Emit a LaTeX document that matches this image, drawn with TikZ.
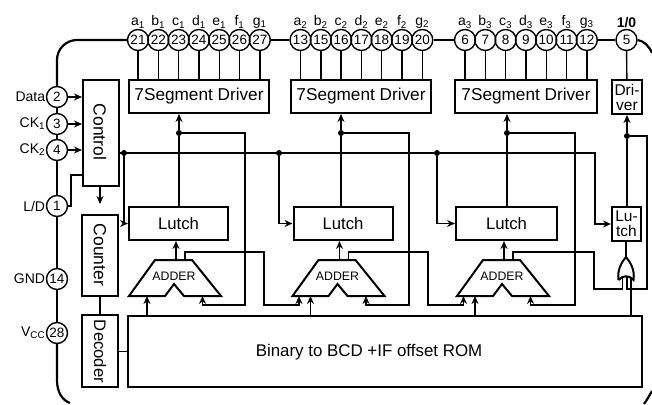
\documentclass[tikz,border=0pt]{standalone}
\usepackage{fontspec}
\setmainfont{Liberation Sans}
\usetikzlibrary{arrows.meta}
\tikzset{
    pinc/.style={draw, circle, line width=1.4pt, minimum size=21pt, inner sep=0pt, font=\fontsize{13.5}{13.5}\selectfont},
    block/.style={draw, line width=2pt, inner sep=0pt, font=\fontsize{16.7}{16.7}\selectfont},
    wire/.style={line width=1.4pt},
    arrow/.style={wire, -{Stealth[length=8pt,width=7pt]}},
    outline/.style={line width=2.2pt},
    dot/.style={circle, fill=black, inner sep=0pt, minimum size=6pt},
    adder/.pic={
        \draw[line width=2pt] (-46,0) -- (-20,-36) -- (17,-36) -- (46,0) -- (9,0) -- (-1,-12) -- (-10,0) -- cycle;
        \node[font=\fontsize{12.3}{12.3}\selectfont] (-text) at (-1,-20) {ADDER};
        \coordinate (-rom) at (-28,0);
        \coordinate (-cin) at (-39.5,0);
        \coordinate (-fb) at (27.5,0);
        \coordinate (-out) at (1,-36);
        \coordinate (-co) at (10,-36);
    },
    orgate/.pic={
        \draw[line width=2pt] (-7.5,23) .. controls (-9,12) and (-4,5) .. (0,0) .. controls (4,5) and (9,12) .. (7.5,23) .. controls (3,18) and (-3,18) .. (-7.5,23);
        \coordinate (-out) at (0,0);
        \coordinate (-a) at (-3.5,20);
        \coordinate (-b) at (1,19);
        \coordinate (-c) at (5,20);
    }
}
\begin{document}
\begin{tikzpicture}[x=1pt, y=-1pt, node distance=20.3pt, label distance=-1pt,
    every label/.style={inner sep=1.5pt, font=\fontsize{14}{14}\selectfont}]
    \useasboundingbox (0,0) rectangle (652,404);

    % top pins
    \node (P21) [pinc, label=above:a\textsubscript{1}] at (138,40) {21};
    \node (P22) [pinc, right of=P21, label=above:b\textsubscript{1}] {22};
    \node (P23) [pinc, right of=P22, label=above:c\textsubscript{1}] {23};
    \node (P24) [pinc, right of=P23, label=above:d\textsubscript{1}] {24};
    \node (P25) [pinc, right of=P24, label=above:e\textsubscript{1}] {25};
    \node (P26) [pinc, right of=P25, label=above:f\textsubscript{1}] {26};
    \node (P27) [pinc, right of=P26, label=above:g\textsubscript{1}] {27};
    \node (P13) [pinc, label=above:a\textsubscript{2}] at (300.5,40) {13};
    \node (P15) [pinc, right of=P13, label=above:b\textsubscript{2}] {15};
    \node (P16) [pinc, right of=P15, label=above:c\textsubscript{2}] {16};
    \node (P17) [pinc, right of=P16, label=above:d\textsubscript{2}] {17};
    \node (P18) [pinc, right of=P17, label=above:e\textsubscript{2}] {18};
    \node (P19) [pinc, right of=P18, label=above:f\textsubscript{2}] {19};
    \node (P20) [pinc, right of=P19, label=above:g\textsubscript{2}] {20};
    \node (P6) [pinc, label=above:a\textsubscript{3}] at (465,40) {6};
    \node (P7) [pinc, right of=P6, label=above:b\textsubscript{3}] {7};
    \node (P8) [pinc, right of=P7, label=above:c\textsubscript{3}] {8};
    \node (P9) [pinc, right of=P8, label=above:d\textsubscript{3}] {9};
    \node (P10) [pinc, right of=P9, label=above:e\textsubscript{3}] {10};
    \node (P11) [pinc, right of=P10, label=above:f\textsubscript{3}] {11};
    \node (P12) [pinc, right of=P11, label=above:g\textsubscript{3}] {12};
    \node (P5) [pinc, label={[font=\fontsize{14}{14}\selectfont\bfseries]above:1/0}] at (626.5,40) {5};

    % left pins
    \node (P2) [pinc, label=left:Data] at (57,97) {2};
    \node (P3) [pinc, label=left:CK\textsubscript{1}] at (57,124) {3};
    \node (P4) [pinc, label=left:CK\textsubscript{2}] at (57,150) {4};
    \node (P1) [pinc, label=left:L/D] at (57,206) {1};
    \node (P14) [pinc, label=left:GND] at (57,279) {14};
    \node (P28) [pinc, label=left:V\textsubscript{CC}] at (57,333) {28};

    % blocks
    \node (Control) [block, minimum width=36pt, minimum height=106pt] at (101,133) {};
    \node (Counter) [block, minimum width=36pt, minimum height=81pt] at (100,255.5) {};
    \node (Decoder) [block, minimum width=36pt, minimum height=72pt] at (100,351) {};
    \node (ControlText) [rotate=-90, font=\fontsize{17.5}{17.5}\selectfont] at (100,132) {Control};
    \node (CounterText) [rotate=-90, font=\fontsize{17.5}{17.5}\selectfont] at (100,255) {Counter};
    \node (DecoderText) [rotate=-90, font=\fontsize{16.7}{16.7}\selectfont] at (100,351.5) {Decoder};
    \node (S1) [block, minimum width=140pt, minimum height=33pt, font=\fontsize{17.2}{17.2}\selectfont] at (199,96.5) {7Segment Driver};
    \node (S2) [block, minimum width=140pt, minimum height=33pt, font=\fontsize{17.2}{17.2}\selectfont] at (361,96.5) {7Segment Driver};
    \node (S3) [block, minimum width=142pt, minimum height=33pt, font=\fontsize{17.2}{17.2}\selectfont] at (526,96.5) {7Segment Driver};
    \node (Drv) [block, minimum width=30pt, minimum height=34pt, align=center, font=\fontsize{15.5}{15}\selectfont] at (627,97) {Dri-\\ver};
    \node (L1) [block, minimum width=99pt, minimum height=33pt] at (178.5,223.5) {Lutch};
    \node (L2) [block, minimum width=99pt, minimum height=33pt] at (343,223.5) {Lutch};
    \node (L3) [block, minimum width=101pt, minimum height=33pt] at (506.5,223.5) {Lutch};
    \node (L4) [block, minimum width=29pt, minimum height=34pt, align=center, font=\fontsize{15.5}{15}\selectfont] at (626.5,224) {Lu-\\tch};
    \node (Rom) [block, minimum width=514pt, minimum height=71pt] at (385,351.5) {};
    \node (RomText) [font=\fontsize{16.9}{16.9}\selectfont] at (369,352) {Binary to BCD +IF offset ROM};
    \pic (A1) at (175,296) {adder};
    \pic (A2) at (338.5,296) {adder};
    \pic (A3) at (503,296) {adder};
    \pic (Or) at (626,257) {orgate};

    % junctions
    \node (D1) [dot] at (179,133) {};
    \node (D2) [dot] at (341,133) {};
    \node (D3) [dot] at (507,133) {};
    \node (D4) [dot] at (627,136) {};
    \node (C1) [dot] at (124,153) {};
    \node (C2) [dot] at (279,153) {};
    \node (C3) [dot] at (437,153) {};

    % outer line
    \draw[outline, rounded corners=20pt] (P21) -- (57,40) -- (P2);
    \draw[outline] (P2) -- (P3);
    \draw[outline] (P3) -- (P4);
    \draw[outline] (P4) -- (P1);
    \draw[outline] (P1) -- (P14);
    \draw[outline] (P14) -- (P28);
    \draw[outline] (P28) -- (57,380) .. controls (57,392) and (62,400) .. (70,403);
    \draw[outline] (P27) -- (P13);
    \draw[outline] (P20) -- (P6);
    \draw[outline] (P12) -- (P5);
    \draw[outline] (P5.east) .. controls (644,41) and (649,46) .. (652,53);
    \draw[outline] (652,391) .. controls (649,396) and (647,400) .. (644,404);

    % pins to drivers
    \draw[wire] (P21) -- (P21 |- S1.north);
    \draw[wire] (P22) -- (P22 |- S1.north);
    \draw[wire] (P23) -- (P23 |- S1.north);
    \draw[wire] (P24) -- (P24 |- S1.north);
    \draw[wire] (P25) -- (P25 |- S1.north);
    \draw[wire] (P26) -- (P26 |- S1.north);
    \draw[wire] (P27) -- (P27 |- S1.north);
    \draw[wire] (P13) -- (P13 |- S2.north);
    \draw[wire] (P15) -- (P15 |- S2.north);
    \draw[wire] (P16) -- (P16 |- S2.north);
    \draw[wire] (P17) -- (P17 |- S2.north);
    \draw[wire] (P18) -- (P18 |- S2.north);
    \draw[wire] (P19) -- (P19 |- S2.north);
    \draw[wire] (P20) -- (P20 |- S2.north);
    \draw[wire] (P6) -- (P6 |- S3.north);
    \draw[wire] (P7) -- (P7 |- S3.north);
    \draw[wire] (P8) -- (P8 |- S3.north);
    \draw[wire] (P9) -- (P9 |- S3.north);
    \draw[wire] (P10) -- (P10 |- S3.north);
    \draw[wire] (P11) -- (P11 |- S3.north);
    \draw[wire] (P12) -- (P12 |- S3.north);
    \draw[wire] (P5) -- (Drv);

    % control
    \draw[arrow] (P2) -- (P2 -| Control.west);
    \draw[arrow] (P3) -- (P3 -| Control.west);
    \draw[arrow] (P4) -- (P4 -| Control.west);
    \draw[wire] (P1) -| (71,175) -- (71,175 -| Control.west);
    \draw[arrow] (Control.south -| Counter) -- (Counter.north |- 0,204);
    \draw[wire] (Counter) -- (Decoder);
    \draw[wire] (Decoder.east |- Rom) -- (Rom.west);
    \draw[wire] (Control.east |- C1) -- (C3);
    \draw[arrow] (C3) -- (595,153) |- (L4.west);
    \draw[arrow] (C1) |- (L1.west);
    \draw[arrow] (C2) |- (L2.west);
    \draw[arrow] (C3) |- (L3.west);

    % lutch up to drivers
    \draw[wire] (D1 |- L1.north) -- (D1);
    \draw[wire] (D2 |- L2.north) -- (D2);
    \draw[wire] (D3 |- L3.north) -- (D3);
    \draw[wire] (D4 |- L4.north) -- (D4);
    \draw[arrow] (D1) -- (D1 |- S1.south);
    \draw[arrow] (D2) -- (D2 |- S2.south);
    \draw[arrow] (D3) -- (D3 |- S3.south);
    \draw[arrow] (D4) -- (D4 |- Drv.south);

    % feedback to adders
    \draw[arrow] (D1) -| (245,305) -| (A1-fb);
    \draw[arrow] (D2) -| (409,305) -| (A2-fb);
    \draw[arrow] (D3) -| (575,305) -| (A3-fb);

    % adders
    \draw[arrow] (A1-out) -- (A1-out |- L1.south);
    \draw[arrow] (A2-out) -- (A2-out |- L2.south);
    \draw[arrow] (A3-out) -- (A3-out |- L3.south);
    \draw[arrow] (A1-rom |- Rom.north) -- (A1-rom);
    \draw[arrow] (A2-rom |- Rom.north) -- (A2-rom);
    \draw[arrow] (A3-rom |- Rom.north) -- (A3-rom);
    \draw[arrow] (A1-co) |- (264,252) -- (264,305) -| (A2-cin);
    \draw[arrow] (A2-co) |- (428,252) -- (428,305) -| (A3-cin);

    % or gate
    \draw[wire] (A3-co) |- (594,252) -- (594,289) -| (Or-a);
    \draw[wire] (D4) -| (647,289) -| (Or-b);
    \draw[wire] (Or-c |- Rom.north) -- (Or-c);
    \draw[wire] (Or-out) -- (Or-out |- L4.south);
\end{tikzpicture}
\end{document}
